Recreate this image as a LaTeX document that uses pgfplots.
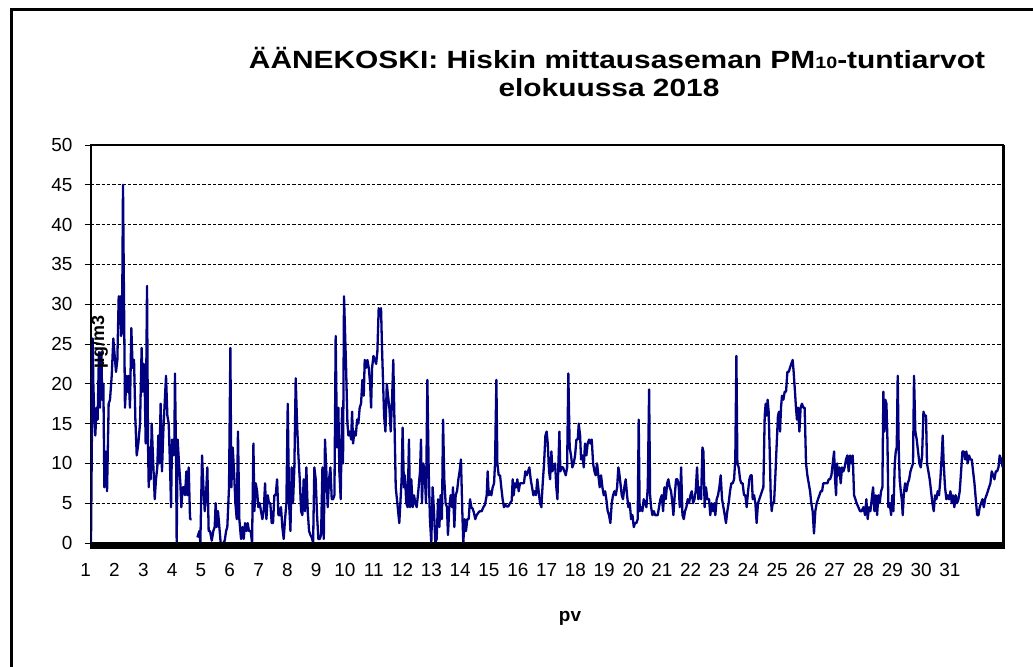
\documentclass[border=0pt]{standalone}
\usepackage{fontspec}
\setmainfont{Liberation Sans}
\usepackage{pgfplots}
\pgfplotsset{compat=1.18}
\definecolor{navyline}{RGB}{0,0,128}
\begin{document}
\begin{tikzpicture}[x=1bp,y=1bp]
\begin{axis}[
  at={(91bp,124bp)}, anchor=south west,
  scale only axis, width=912bp, height=398bp,
  xmin=0, xmax=744, ymin=0, ymax=50,
  xtick={0,23.5,...,705},
  xticklabels={1,2,3,4,5,6,7,8,9,10,11,12,13,14,15,16,17,18,19,20,21,22,23,24,25,26,27,28,29,30,31},
  ytick={0,5,...,50},
  ymajorgrids,
  grid style={black, dash pattern=on 3.3bp off 2bp, line width=0.7bp},
  axis line style={black, line width=1.5bp},
  tick align=outside, tick pos=left,
  x tick style={draw=none},
  y tick style={black, line width=0.8bp},
  major tick length=6bp,
  ticklabel style={font=\fontsize{19}{19}\selectfont},
  /pgf/number format/assume math mode=true,
  xticklabel style={xshift=-5.3bp, yshift=-11bp},
  yticklabel style={xshift=-9bp},
  unbounded coords=jump,
]
\addplot[navyline, line width=2.3bp, line join=round] coordinates {
(0,0)(1.4,25.7)(1.9,20)(2.7,16)(3.5,13.5)(4.6,17)(5.4,15.5)(6.5,24)(7.3,17)(8.4,24)(9.2,18)(10.1,20)(10.9,7)(12.0,11.5)(13.1,6.5)(14.4,17.5)(15.5,18)(16.9,21)(18.2,25.7)(19.6,23)(20.4,21.5)(21.5,23)(22.6,31)(23.4,29)(23.9,31)(24.5,26)(25.3,26.5)(26.1,45)(26.9,31)(27.7,17)(29.1,21)(29.9,19)(30.7,21)(31.8,17)(32.9,27)(34.0,22)(35.1,23)(36.2,15.5)(37.3,11)(38.6,12.5)(40.0,15)(41.3,24.5)(42.2,19)(43.0,22.5)(43.8,20)(44.6,12.5)(45.7,32.3)(46.5,12.5)(47.1,7)(47.9,12)(48.7,8)(49.5,15)(50.9,9.5)(52.0,5.5)(53.0,8)(54.1,9.5)(54.9,13.5)(55.8,10)(56.8,17.5)(57.9,9)(59.0,14)(60.4,18.5)(61.2,21)(62.3,16)(63.4,15)(64.5,9.5)(65.3,4.5)(66.1,13)(67.2,11)(68.0,12.5)(68.5,21.3)(69.4,11)(69.9,0)(70.7,13)(71.8,10)(72.9,7.5)(73.7,4.5)(74.8,7)(75.9,7)(76.7,6)(77.8,9)(78.6,6)(79.7,9.5)(80.8,3)(82.1,3)
(84.5,nan)
(86.8,0.7)(88.4,1.5)(89.2,0)(90.6,11)(91.7,7)(92.8,4)(93.8,6)(94.9,9.5)(96.0,1.5)(97.1,1.5)(98.5,0.3)(99.8,1.5)(100.9,2)(101.7,5)(102.5,2)(103.6,4)(104.7,2)(105.8,0)(108.0,0)(109.1,0.3)(110.2,1.5)(111.2,2)(112.6,7)(113.7,24.5)(114.5,7)(115.6,12)(116.7,9)(117.8,5)(118.9,3)(119.9,14)(121.0,3)
(122.4,0.5)(123.5,2)(124.6,0.5)(125.7,2.5)(127.0,1.5)(127.8,2.5)(128.9,1.5)(130.3,1.5)(131.4,0)(132.5,12.5)(133.3,4)(134.4,7.5)(135.5,6.5)(136.5,4.5)(137.6,5)(138.7,4)(139.8,3)(140.9,4)(142.0,7.5)(143.1,3)(144.2,6)(145.2,5)(146.3,5)(147.4,2.5)(148.5,2.5)(149.6,6)(150.7,6)(151.8,8)(152.9,3.5)(154.0,3.5)(155.0,4.5)(156.1,2)(157.2,0.5)(158.3,3)(159.4,5)(160.5,17.5)(161.6,5)(162.7,1.5)(163.7,9.5)(164.8,5)(165.9,9.5)(167.0,20.7)(168.1,15)(169.2,11)(170.3,8)(171.4,4)(172.4,3.5)(173.5,8)(174.6,4)(175.7,9.5)(176.8,4)(177.9,1.5)(179.0,1)(180.1,0.7)(181.2,0)(182.2,9.5)(183.3,8)(184.4,3.5)(185.5,0.5)(186.6,0.5)(187.7,1)(188.8,9.5)(189.9,0.5)(190.9,13)(192.0,9)(193.1,4.5)(194.2,8)(195.3,9.5)(196.4,5.5)(197.5,5.5)(198.6,6)(199.6,26)(200.7,12)(201.8,17)(202.6,9)(203.7,5.5)(204.8,17)(205.6,10)(206.4,31)(208.1,22)(209.2,15)(210.0,13.5)(211.1,14)(212.2,13)(213.0,16.5)(213.8,12.5)(214.9,14)(216.0,13.5)(217.1,15.5)(218.1,15)(219.2,17)(220.3,17.5)(221.4,20.5)(222.5,18.5)(223.3,23)(224.4,22)(225.5,23)(226.6,22)(227.7,20)(228.5,17)(229.3,22)(230.4,23.5)(231.5,23)(232.6,22.5)(233.6,24)(234.7,29.5)(235.8,28.5)(236.6,29.5)(237.5,24)(238.3,20)(239.1,16)(240.2,14)(241.3,20)(242.3,18.5)(243.4,17)(244.5,14)(245.6,18)(246.6,23)(247.6,15)(248.6,7)(249.9,5)(251.5,2.5)
(253.4,8)(254.2,14.5)(255.3,7)(256.1,8.5)(257.2,5)(258.3,4.5)(259.4,13)(260.2,4.5)(261.3,8)(262.4,4.5)(263.5,6)(264.6,5)(265.7,4.5)(267.0,6.5)(268.4,9)(269.2,13)(270.0,5)(271.1,10)(272.2,9)(273.3,5)(274.4,20.5)(275.5,9)(276.5,3)(277.6,0)(278.7,7)(279.8,4)(280.9,0)(282.0,0.5)(283.1,5.5)(284.2,2)(285.2,6)(286.3,3)(287.2,15.5)(288.2,8)(289.3,5)(290.4,4.5)(291.2,1)(292.3,4.5)(293.4,6)(294.5,4.5)(295.3,7)(296.4,2)(297.5,6)(298.6,6.5)(299.7,8)(300.7,9)(301.8,10.5)(302.9,4)(303.7,0)(304.8,3)(305.9,1.5)(307.0,3)(308.1,3)(309.2,5.5)(310.3,4.5)(311.4,4.3)(312.4,3.8)(313.5,3)(314.6,3.5)(316.0,3.8)(317.3,4)(318.7,4)(320.1,4.5)(321.4,4.8)(322.8,6)(323.6,9)(324.4,6)(325.5,6.5)(326.6,6)(327.7,7)(328.8,7.5)(329.6,10)(330.7,20.5)(331.5,10)(332.6,8.5)(333.7,8.5)(334.7,7)(335.8,5.5)(336.9,4.5)(338.0,4.8)(339.1,4.6)(340.5,4.6)(341.8,5)(343.2,5.3)(344.0,8)(344.8,6)(345.9,7.5)(347.0,7)(347.8,8)(348.9,6.5)(350.0,7.5)(351.1,7.5)(352.2,7.5)(353.2,7.5)(354.3,9)(355.4,8.5)(356.5,9)(357.6,9.5)(358.7,8)(359.8,7)(360.9,6)(361.9,6.5)(363.0,6)(364.1,8)(365.2,6.5)(366.3,5)(367.4,4.5)(368.5,7.5)(369.6,10)(370.7,13.5)(371.7,14)
(372.6,12.5)(373.7,9)(374.5,8)(375.6,11.5)(376.4,9)(377.5,9.5)(378.6,10)(379.6,7)(380.5,5.5)(381.3,10)(382.1,14)(382.9,9)(384.0,9.5)(385.1,9.5)(386.2,9)(387.3,8.5)(388.4,9.5)(389.4,21.3)(390.5,12)(391.6,11)(392.7,9.5)(393.8,10)(394.9,11)(396.0,13)(397.1,13)(397.9,15)(399.0,13.5)(399.8,10.5)(400.9,11)(402.0,9.5)(403.0,12.5)(404.1,11)(405.2,12.5)(406.3,13)(407.4,12.5)(408.5,13)(409.6,10)(410.7,9)(411.7,8.5)(412.8,10)(413.9,8.5)(415.0,7)(416.1,8.5)(417.2,7)(418.3,6)(419.4,6.5)(420.4,5.5)(421.5,4)(422.6,3.5)(423.7,2.5)(424.8,5)(425.9,6)(427.0,6.5)(428.1,6)(429.2,7)(430.2,9.5)(430.8,9)(431.9,7.5)(433.0,6)(434.0,5.5)(435.1,7)(436.2,8)(437.3,6)(438.4,4.5)(439.5,5)(440.6,3)(441.7,3.5)(442.8,2)(443.8,2.5)(444.9,2.5)(446.0,3)(446.8,15.5)(447.6,4)(448.7,4.5)(449.8,4)(450.9,5.5)(452.0,5)(453.1,4.5)(454.2,7)(455.3,19.3)(456.1,6)(456.9,4.5)(458.0,3.5)(459.1,4)(460.2,3.5)(461.2,3.5)(462.3,3.5)(463.4,4.5)(464.5,5.5)(465.6,6)(466.7,4)(467.8,7)(468.9,5.5)(470.0,7.5)(471.0,8)(472.1,7)(473.2,6.5)(474.3,5)(475.1,3.5)(476.2,6)(477.3,8)(478.4,8)(479.5,7)(480.3,4.5)(481.4,9.5)(482.5,3.5)(483.6,3)(484.6,4)(485.7,4.5)(486.8,5.5)(487.9,5)(489.0,6)(490.1,6.5)(491.2,5)(492.3,5.5)(493.3,6.5)(494.4,9.5)(495.5,5.5)(496.6,7)(497.7,5.5)(498.8,12)(499.6,11.5)
(500.6,4.5)(501.7,7)(502.8,5.5)(504.2,5.5)(505.2,3.5)(506.3,5)(507.4,4)(508.5,5)(509.3,3.5)(510.4,5.5)(511.5,6)(512.6,7)(513.7,8.5)(514.8,5.5)(515.9,4.5)(517.0,3.5)(518.0,2.5)(519.1,4)(520.2,5)(521.3,6.5)(522.4,7.5)(523.5,7.5)(524.6,8)(525.6,10.5)(526.5,23.5)(527.3,10)(528.4,9.5)(529.5,8)(530.5,7.5)(531.6,7.5)(532.7,6)(533.8,6)(534.9,4.5)(536.0,6.5)(537.1,8)(538.1,8.5)(539.0,8.5)(539.8,5.5)(540.9,6)(542.0,5)(543.0,2.5)(544.1,5)(545.2,5.5)(546.3,6)(547.4,6.5)(548.5,7)(549.6,16)(550.4,17.5)(551.2,16)(552.0,18)(552.8,16.5)(553.6,12)(554.5,6)(555.3,4)(556.1,5)(557.2,5)(558.3,8.5)(559.4,12.5)(560.4,16)(561.3,16.5)(562.1,14)(562.9,17)(563.7,18.5)(564.8,18)(565.9,19)(567.0,19)(568.1,21.5)(569.2,21.5)(570.2,22)(571.3,22.5)(572.4,23)(573.2,21.5)(574.3,19)(575.1,17)(575.9,15.5)(576.8,17)(577.9,14)(578.9,17)(580.0,17.5)(581.1,17)(582.2,17)(583.3,10)(584.4,8.5)(585.5,7.5)(586.6,6.5)(587.6,5)(588.7,4)(589.8,1.2)(590.9,4)(592.0,5)(593.1,5.5)(594.2,6)(595.3,6.5)(596.4,6.5)(597.4,7.5)(598.5,7.5)(599.6,7.5)(600.7,7.5)(601.8,8)(602.9,8)(604.0,8.5)(605.1,10)(606.2,11.5)(607.0,8)(607.8,6)(608.6,10)(609.4,8.5)(610.5,9.5)(611.6,7.5)(612.7,9.5)(613.8,9)(614.8,9.5)(615.9,10.5)(617.0,11)(618.1,9)(619.2,11)(620.3,10)(621.4,11)(622.5,6)(623.6,5.5)(624.6,5)
(626.0,4.5)(627.4,4)(628.7,4)(630.1,4.5)(631.5,3.5)(632.5,5.5)(633.6,3)(634.7,4.5)(635.8,4)(636.9,5.5)(638.0,7)(639.1,4)(640.2,6)(641.3,3.5)(642.3,6)(643.4,5)(644.5,6.5)(645.6,7)(646.4,19)(647.2,14)(648.0,18)(648.9,17.5)(649.7,13)(650.5,4.5)(651.6,5)(652.7,3.5)(653.7,6)(654.6,4)(655.7,10)(656.5,11.5)(657.3,12)(658.1,21)(658.9,12)(659.7,8)(660.6,6.5)(661.4,5.5)(662.2,3.5)(663.0,6)(664.1,7.5)(665.2,6.5)(666.3,7.5)(667.4,8)(668.5,9)(669.5,9.5)(670.6,10)(671.4,21)(672.5,14)(673.6,13)(674.7,11.5)(675.8,10)(676.9,9.5)(678.0,11)(679.1,16.5)(680.1,16)(681.2,16)(682.0,10)(683.1,9)(684.2,8)(685.3,6.5)(686.4,5)(687.5,4)(688.6,6)(689.7,5.5)(690.7,6.5)(691.8,6)(692.9,8)(694.0,11)(694.8,13.5)(695.6,10)(696.7,7)(697.8,5.5)(698.9,6)(700.0,5.5)(701.1,6.5)(702.2,5)(703.2,6)(704.3,4.5)(705.4,6)(706.5,5)(707.6,5.5)(708.7,6.5)(709.8,9)(710.9,11.5)(712.0,11.5)(713.1,10.5)(714.1,11.5)(715.2,10)(716.3,11)(717.4,10.5)(718.5,10.5)(719.6,9)(720.7,7.5)(721.8,5.5)(722.9,3.5)(724.0,3.5)(725.0,4.5)(726.1,5)(727.2,5.5)(728.3,4.5)(729.4,5.5)(730.5,6)(731.6,6.5)(732.6,7)(733.7,7.5)(734.8,9)(735.9,8.5)(737.0,8)(738.1,9)(739.2,9)(740.3,9.5)(741.3,11)(742.4,10.5)(743.8,9.5)
};
\end{axis}
% thick floor bar under the x axis
\fill[black] (90bp,117.5bp) rectangle (1005bp,124.5bp);
% shadow on right border
\draw[black, line width=2bp] (1004bp,124bp) -- (1004bp,522bp);
% y label inside plot
\node[rotate=90, font=\bfseries\fontsize{18}{18}\selectfont] at (99.5bp,325bp) {µg/m3};
% x label
\node[anchor=base, font=\bfseries\fontsize{19}{19}\selectfont] at (570bp,45.3bp) {pv};
% title
\node[anchor=base, xscale=1.2, font=\bfseries\fontsize{25}{25}\selectfont] at (617bp,598.7bp) {ÄÄNEKOSKI: Hiskin mittausaseman PM{\fontsize{16.5}{16.5}\selectfont 10}-tuntiarvot};
\node[anchor=base, xscale=1.2, font=\bfseries\fontsize{25}{25}\selectfont] at (609bp,570.3bp) {elokuussa 2018};
% outer frame
\draw[black, line width=3bp] (11bp,-5bp) -- (11bp,657.5bp) -- (1040bp,657.5bp);
\pgfresetboundingbox
\useasboundingbox (0,0) rectangle (1033bp,667bp);
\end{tikzpicture}
\end{document}
